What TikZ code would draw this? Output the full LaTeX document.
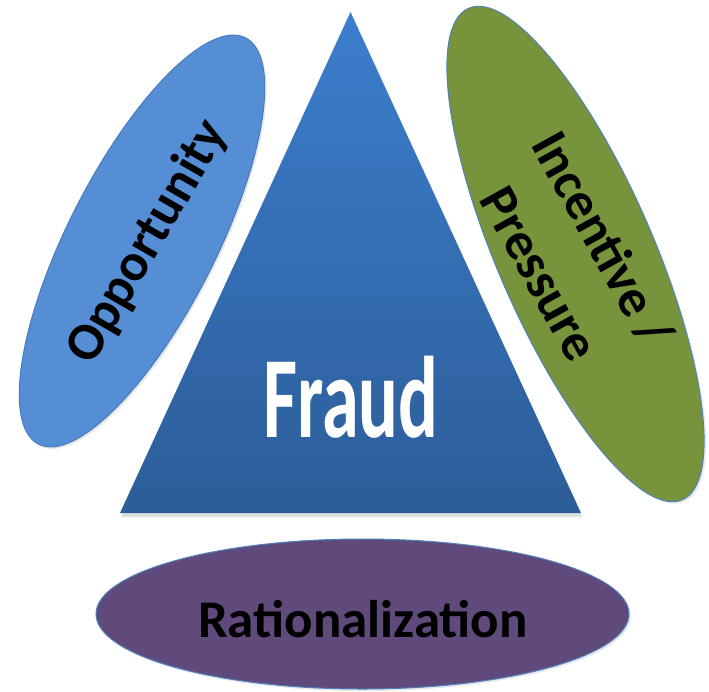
\documentclass[tikz,border=0pt]{standalone}
\usepackage{fontspec}
\usepackage{graphicx}
\setmainfont{Carlito}
\usetikzlibrary{shapes.geometric,shadows}

\definecolor{triTop}{RGB}{60,126,205}
\definecolor{triBot}{RGB}{44,93,152}
\definecolor{oppFill}{RGB}{85,142,213}
\definecolor{oppLine}{RGB}{72,122,192}
\definecolor{incFill}{RGB}{119,147,60}
\definecolor{ratFill}{RGB}{96,74,123}
\definecolor{rimBlue}{RGB}{79,129,189}

\tikzset{
  petal/.style={ellipse, draw=rimBlue, line width=1pt, inner sep=0pt,
    drop shadow={opacity=0.18, shadow xshift=2pt, shadow yshift=-2pt}},
  petaltext/.style={font=\bfseries\fontsize{53}{72}\selectfont, text=black, align=center}
}

\begin{document}
\begin{tikzpicture}[x=1pt,y=-1pt]
\useasboundingbox (0,0) rectangle (709,691);

% triangulo
\path[top color=triTop, bottom color=triBot,
  drop shadow={opacity=0.25, shadow xshift=1pt, shadow yshift=-4pt}]
  (350.5,12) -- (581,513) -- (120,513) -- cycle;
\node[text=white, font=\bfseries\fontsize{116}{116}\selectfont] (fraud) at (351,397)
  {\scalebox{0.64}[1]{Fraud}};

% elipses
\node[petal, fill=oppFill, draw=oppLine, minimum width=456pt, minimum height=148pt,
  rotate=63] (opp) at (142,241) {};
\node[petal, fill=incFill, minimum width=536pt, minimum height=156pt,
  rotate=-66.5] (inc) at (575.5,254) {};
\node[petal, fill=ratFill, minimum width=533pt, minimum height=150pt] (rat) at (362.5,614) {};

% rotulos
\node[petaltext, rotate=60] (opptext) at (148,242) {Opportunity};
\node[petaltext, rotate=-61] (inctext) at (572,256) {Incentive /\\Pressure};
\node[petaltext] (rattext) at (363,619) {Rationalization};

\end{tikzpicture}
\end{document}
